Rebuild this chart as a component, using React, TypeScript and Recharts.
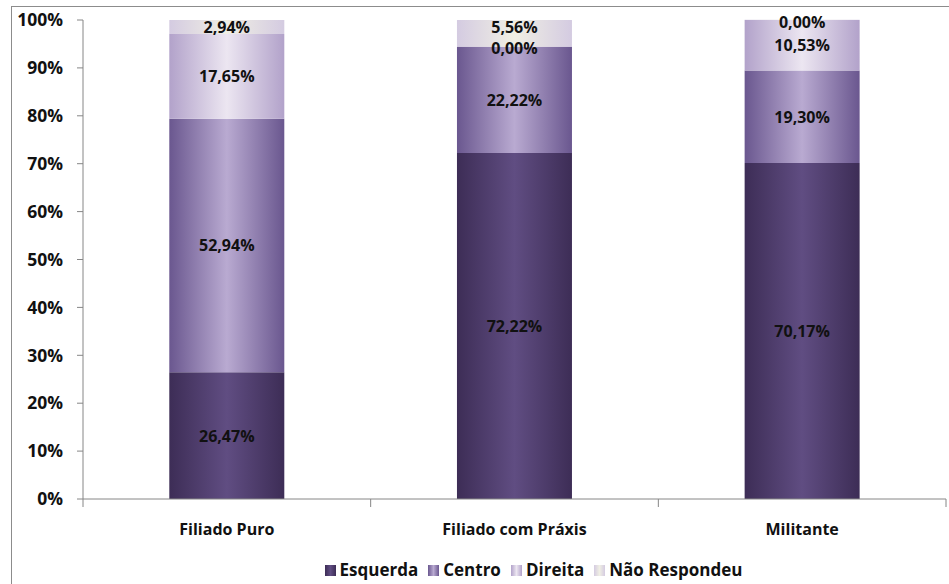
import { Bar, BarChart, LabelList, XAxis, YAxis } from "recharts";

const categories = ["Filiado Puro", "Filiado com Práxis", "Militante"];
const esquerda = [26.47, 72.22, 70.17];
const centro = [52.94, 22.22, 19.3];
const direita = [17.65, 0.0, 10.53];
const naoRespondeu = [2.94, 5.56, 0.0];
const yTicks = [0, 10, 20, 30, 40, 50, 60, 70, 80, 90, 100];

const series = [
  { key: "esquerda", name: "Esquerda", values: esquerda, edge: "#3d2d56", mid: "#604d82" },
  { key: "centro", name: "Centro", values: centro, edge: "#6a578f", mid: "#b9aad1" },
  { key: "direita", name: "Direita", values: direita, edge: "#b2a2ca", mid: "#ece6f1" },
  { key: "nao", name: "Não Respondeu", values: naoRespondeu, edge: "#d4cbe1", mid: "#f0efe4" },
];

const data = categories.map((name, i) => {
  const row: Record<string, string | number> = { name };
  series.forEach((s) => {
    row[s.key] = s.values[i];
  });
  return row;
});

const W = 949;
const H = 584;
const margin = { top: 20, right: 3, left: 0, bottom: 55 };
const yAxisWidth = 83;
const FONT = "'Open Sans', sans-serif";
const AXIS = "#868686";
const MIN_GAP = 20;

const halfBand = (W - margin.left - margin.right - yAxisWidth) / categories.length / 2;

const fmt = (v: unknown) => `${Number(v).toFixed(2).replace(".", ",")}%`;

function CategoryTick(props: any) {
  const { x, y, payload, index } = props;
  const last = index === categories.length - 1;
  return (
    <g>
      <line x1={x - halfBand} x2={x - halfBand} y1={y - 8} y2={y} stroke={AXIS} />
      {last && <line x1={x + halfBand} x2={x + halfBand} y1={y - 8} y2={y} stroke={AXIS} />}
      <text
        x={x}
        y={y}
        dy={28}
        textAnchor="middle"
        fontFamily={FONT}
        fontWeight={700}
        fontSize={16}
        fill="#111"
      >
        {payload.value}
      </text>
    </g>
  );
}

// centre label, nudged away from a neighbouring 0,00% label so they don't collide
function SegmentLabel(props: any) {
  const { seriesIdx, index, value } = props;
  const vb = props.viewBox ?? props;
  const x = Number(vb.x) + Number(vb.width) / 2;
  const top = Number(vb.y);
  const h = Number(vb.height);
  let cy = top + h / 2;
  if (Number(value) === 0) {
    cy = top + h + 1.5;
  } else {
    const below = series[seriesIdx - 1]?.values[index];
    const above = series[seriesIdx + 1]?.values[index];
    if (below === 0 && top + h - cy < MIN_GAP) cy = top + h - MIN_GAP;
    if (above === 0 && cy - top < MIN_GAP) cy = top + MIN_GAP;
  }
  return (
    <text
      x={x}
      y={cy}
      textAnchor="middle"
      dominantBaseline="central"
      fontFamily={FONT}
      fontWeight={700}
      fontSize={16}
      fill="#111"
    >
      {fmt(value)}
    </text>
  );
}

export default function App() {
  return (
    <div style={{ position: "absolute", left: 0, top: 0, width: W, height: H, background: "#fff" }}>
      <div
        style={{
          position: "absolute",
          left: 11,
          top: 6,
          width: W,
          height: H,
          borderLeft: "1.5px solid #8c8c8c",
          borderTop: "1.5px solid #8c8c8c",
        }}
      />
      <BarChart
        width={W}
        height={H}
        data={data}
        margin={margin}
        barCategoryGap="30%"
        style={{ position: "absolute", left: 0, top: 0 }}
      >
        <defs>
          {series.map((s) => (
            <linearGradient key={s.key} id={`g-${s.key}`} x1="0" y1="0" x2="1" y2="0">
              <stop offset="0%" stopColor={s.edge} />
              <stop offset="50%" stopColor={s.mid} />
              <stop offset="100%" stopColor={s.edge} />
            </linearGradient>
          ))}
        </defs>
        <XAxis
          dataKey="name"
          height={30}
          axisLine={{ stroke: AXIS }}
          tickLine={false}
          tickSize={8}
          tickMargin={0}
          interval={0}
          tick={<CategoryTick />}
        />
        <YAxis
          width={yAxisWidth}
          domain={[0, 100]}
          ticks={yTicks}
          interval={0}
          tickFormatter={(v) => `${v}%`}
          axisLine={{ stroke: AXIS }}
          tickLine={{ stroke: AXIS }}
          tickSize={6}
          tickMargin={14}
          tick={{ fill: "#111", fontFamily: FONT, fontWeight: 700, fontSize: 17.5 }}
        />
        {series.map((s, i) => (
          <Bar
            key={s.key}
            dataKey={s.key}
            name={s.name}
            stackId="a"
            fill={`url(#g-${s.key})`}
            minPointSize={0.3}
            isAnimationActive={false}
          >
            <LabelList
              dataKey={s.key}
              content={(p: any) => <SegmentLabel {...p} seriesIdx={i} />}
            />
          </Bar>
        ))}
      </BarChart>
      <div
        style={{
          position: "absolute",
          left: 0,
          top: 560,
          width: W,
          display: "flex",
          justifyContent: "center",
          paddingLeft: 118,
          boxSizing: "border-box",
          fontFamily: FONT,
          fontWeight: 700,
          fontSize: 17,
          color: "#111",
          gap: 10,
          lineHeight: "20px",
        }}
      >
        {series.map((s) => (
          <div key={s.key} style={{ display: "flex", alignItems: "center" }}>
            <span
              style={{
                display: "inline-block",
                width: 11,
                height: 11,
                marginRight: 4,
                background: `linear-gradient(to right, ${s.edge}, ${s.mid}, ${s.edge})`,
              }}
            />
            {s.name}
          </div>
        ))}
      </div>
    </div>
  );
}
